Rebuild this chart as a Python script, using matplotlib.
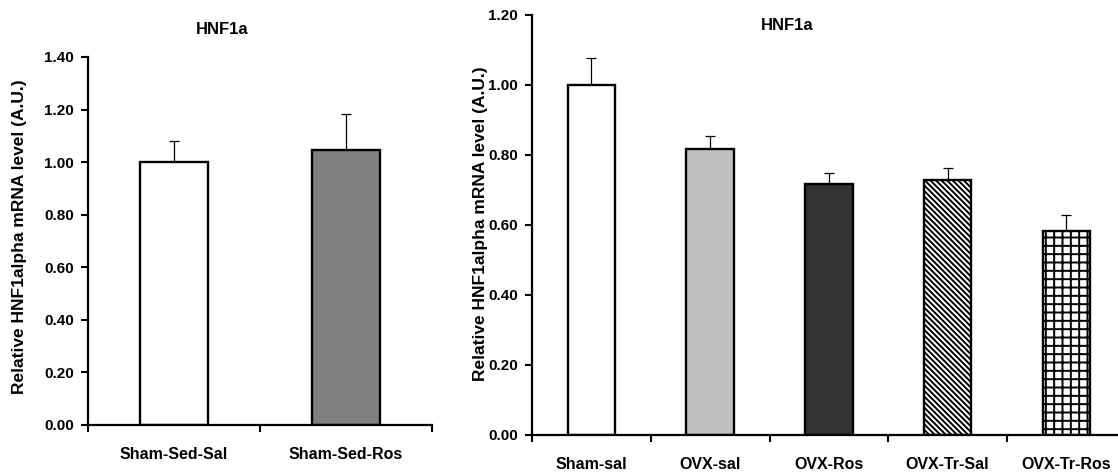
import numpy as np
import matplotlib
matplotlib.use("Agg")
import matplotlib.pyplot as plt

# data
left_groups = ["Sham-Sed-Sal", "Sham-Sed-Ros"]
left_means = [1.00, 1.045]
left_err = [0.08, 0.138]

right_groups = ["Sham-sal", "OVX-sal", "OVX-Ros", "OVX-Tr-Sal", "OVX-Tr-Ros"]
right_means = [1.00, 0.817, 0.716, 0.729, 0.583]
right_err = [0.077, 0.036, 0.033, 0.033, 0.045]

left_ticks = [0.0, 0.2, 0.4, 0.6, 0.8, 1.0, 1.2, 1.4]
right_ticks = [0.0, 0.2, 0.4, 0.6, 0.8, 1.0, 1.2]

title = "HNF1a"
ylabel = "Relative HNF1alpha mRNA level (A.U.)"

plt.rcParams["hatch.linewidth"] = 1.4
font = ["Liberation Sans", "DejaVu Sans"]

W, H = 1118, 475
fig = plt.figure(figsize=(W / 100, H / 100), dpi=100)


def px_axes(x0, x1, ytop, ybot):
    return fig.add_axes([x0 / W, (H - ybot) / H, (x1 - x0) / W, (ybot - ytop) / H])


def draw_panel(ax, groups, means, errs, colors, hatches, yticks):
    x = np.arange(len(groups))
    ax.bar(x, means, width=0.4, color=colors, edgecolor="black", linewidth=1.7,
           hatch=hatches, zorder=2)
    ax.errorbar(x, means, yerr=[np.zeros(len(errs)), errs], fmt="none",
                ecolor="black", elinewidth=0.9, capsize=3.5, capthick=0.9, zorder=1)
    ax.set_xlim(-0.5, len(groups) - 0.5)
    ax.set_ylim(0, yticks[-1])
    ax.set_yticks(yticks)
    ax.set_yticklabels([f"{t:.2f}" for t in yticks], fontfamily=font,
                       fontweight="bold", fontsize=11)
    # category boundaries get the tick marks, centers get the labels
    ax.set_xticks(np.arange(len(groups) + 1) - 0.5)
    ax.set_xticklabels([])
    ax.set_xticks(x, minor=True)
    ax.set_xticklabels(groups, minor=True, fontfamily=font,
                       fontweight="bold", fontsize=11.5)
    ax.tick_params(axis="x", which="major", direction="out", length=5, width=1.5)
    ax.tick_params(axis="x", which="minor", length=0, pad=16)
    ax.tick_params(axis="y", direction="out", length=5, width=1.5, pad=5)
    for s in ["top", "right"]:
        ax.spines[s].set_visible(False)
    for s in ["left", "bottom"]:
        ax.spines[s].set_linewidth(1.6)


# left panel
ax1 = px_axes(88, 432, 57, 425)
draw_panel(ax1, left_groups, left_means, left_err,
           ["white", "#808080"], [None, None], left_ticks)
fig.text(222 / W, (H - 30) / H, title, ha="center", va="center",
         fontfamily=font, fontweight="bold", fontsize=12)
fig.text(20 / W, (H - 237) / H, ylabel, rotation=90, ha="center", va="center",
         fontfamily=font, fontweight="bold", fontsize=12.5)

# right panel, runs past the right edge like the reference crop
ax2 = px_axes(532, 532 + 5 * 118.75, 15, 435)
draw_panel(ax2, right_groups, right_means, right_err,
           ["white", "#c0c0c0", "#333333", "white", "white"],
           [None, None, None, "\\\\\\\\\\\\", "++"], right_ticks)
fig.text(787 / W, (H - 25) / H, title, ha="center", va="center",
         fontfamily=font, fontweight="bold", fontsize=12)
fig.text(480 / W, (H - 224) / H, ylabel, rotation=90, ha="center", va="center",
         fontfamily=font, fontweight="bold", fontsize=12.5)

fig.savefig("out.png", dpi=100)
